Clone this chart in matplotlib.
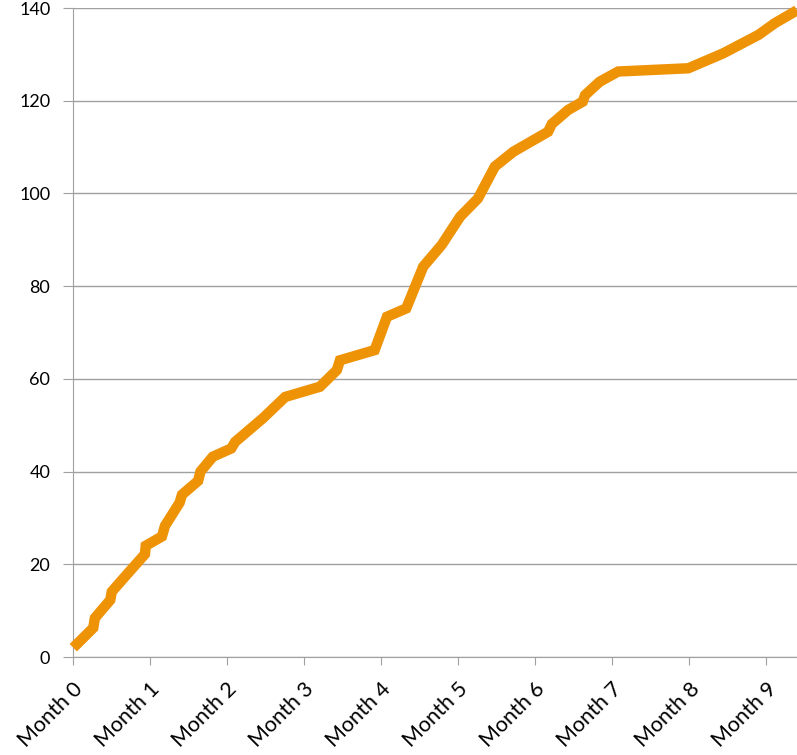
import matplotlib
matplotlib.use("Agg")
import matplotlib.pyplot as plt

# cumulative count (x in months)
months = [0.01, 0.27, 0.29, 0.49, 0.51, 0.70, 0.94, 0.95, 1.16, 1.20,
          1.39, 1.42, 1.63, 1.66, 1.82, 2.06, 2.11, 2.47, 2.76, 3.21,
          3.43, 3.47, 3.92, 4.08, 4.33, 4.55, 4.79, 5.03, 5.26, 5.48,
          5.72, 6.17, 6.22, 6.43, 6.62, 6.65, 6.84, 7.08, 7.99, 8.44,
          8.90, 9.11, 9.40]
counts = [2, 6.3, 8.4, 12.3, 14.1, 17.7, 22.2, 24.0, 26.0, 28.3,
          33.3, 35, 38, 40, 43.2, 45, 46.4, 51.5, 56.1, 58.3,
          61.9, 64, 66.2, 73.4, 75.2, 84.2, 88.9, 95, 98.9, 105.8,
          109, 113.3, 115, 118, 119.8, 121.2, 124.1, 126.3, 127, 130.2,
          134.2, 136.7, 139.5]

tick_pos = list(range(10))
tick_labels = ["Month %d" % i for i in tick_pos]
yticks = [0, 20, 40, 60, 80, 100, 120, 140]

plt.rcParams['font.family'] = ['Lato', 'DejaVu Sans']

fig = plt.figure(figsize=(7.97, 7.55), dpi=100)
ax = fig.add_axes([72.5/797, 98/755, 1 - 72.5/797, 649/755])

ax.plot(months, counts, color='#EE9206', lw=7.5, solid_capstyle='butt',
        solid_joinstyle='miter', clip_on=False, zorder=3)

ax.set_xlim(0, 9.4)
ax.set_ylim(0, 140)
ax.set_yticks(yticks)
ax.set_xticks(tick_pos)
ax.set_xticklabels(tick_labels, rotation=45, ha='right', rotation_mode='anchor',
                   fontsize=15.5)
ax.tick_params(axis='y', labelsize=13, length=7, color='#A0A0A0', pad=9)
ax.tick_params(axis='x', length=6, color='#A0A0A0', pad=10)

ax.grid(axis='y', color='#A0A0A0', lw=1)
ax.set_axisbelow(True)
for s in ['top', 'right']:
    ax.spines[s].set_visible(False)
for s in ['left', 'bottom']:
    ax.spines[s].set_color('#A0A0A0')

fig.savefig("out.png", dpi=100)
